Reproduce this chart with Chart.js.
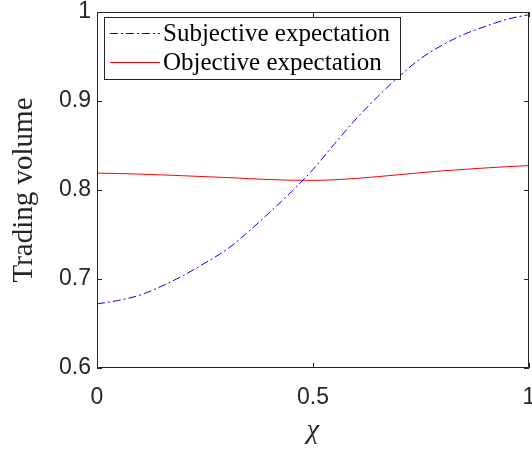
<!DOCTYPE html>
<html>
<head>
<meta charset="utf-8">
<script src="https://cdn.jsdelivr.net/npm/chart.js@4.4.0/dist/chart.umd.min.js"></script>
<style>
html,body{margin:0;padding:0;background:#fff;}
#wrap{width:532px;height:450px;position:relative;}
</style>
</head>
<body>
<div id="wrap"><canvas id="c" width="532" height="450"></canvas></div>
<script>
const chiValues = [0,0.05,0.1,0.15,0.2,0.25,0.3,0.35,0.4,0.45,0.5,0.55,0.6,0.65,0.7,0.75,0.8,0.85,0.9,0.95,1];
const subjective = [0.672,0.676,0.682,0.692,0.704,0.718,0.733,0.753,0.775,0.798,0.823,0.852,0.880,0.905,0.928,0.948,0.963,0.975,0.984,0.992,0.997];
const objective = [0.819,0.8185,0.8178,0.8170,0.8160,0.8150,0.8140,0.8128,0.8117,0.8110,0.8108,0.8115,0.8130,0.8150,0.8172,0.8195,0.8215,0.8232,0.8248,0.8262,0.8275];
const xTicks = [0,0.5,1];
const yTicks = [0.6,0.7,0.8,0.9,1];
const seriesLabels = ['Subjective expectation','Objective expectation'];

const axisColor = '#262626';
const sansFont = '"Liberation Sans", Arial, Helvetica, sans-serif';
const serifFont = '"Liberation Serif", "Times New Roman", serif';

const boxPlugin = {
  id: 'boxPlugin',
  afterDatasetsDraw(chart) {
    const ctx = chart.ctx;
    const a = chart.chartArea;
    const xs = chart.scales.x, ys = chart.scales.y;
    ctx.save();
    ctx.strokeStyle = axisColor;
    ctx.lineWidth = 1;
    ctx.beginPath();
    ctx.rect(Math.round(a.left)+0.5, Math.round(a.top)+0.5, Math.round(a.right-a.left)-1, Math.round(a.bottom-a.top)-1);
    ctx.stroke();
    const tl = 5;
    ctx.beginPath();
    xTicks.forEach(v => {
      const px = Math.round(xs.getPixelForValue(v)) + 0.5;
      ctx.moveTo(px, a.bottom); ctx.lineTo(px, a.bottom - tl);
      ctx.moveTo(px, a.top); ctx.lineTo(px, a.top + tl);
    });
    yTicks.forEach(v => {
      const py = Math.round(ys.getPixelForValue(v)) + 0.5;
      ctx.moveTo(a.left, py); ctx.lineTo(a.left + tl, py);
      ctx.moveTo(a.right, py); ctx.lineTo(a.right - tl, py);
    });
    ctx.stroke();

    // legend
    const lx = 104.5, ly = 17.5, lw = 296, lh = 62;
    ctx.fillStyle = '#fff';
    ctx.fillRect(lx, ly, lw, lh);
    ctx.strokeStyle = axisColor;
    ctx.strokeRect(lx, ly, lw, lh);
    const rows = [33, 62];
    chart.data.datasets.forEach((ds, i) => {
      ctx.strokeStyle = ds.borderColor;
      ctx.lineWidth = ds.borderWidth;
      ctx.setLineDash(ds.borderDash || []);
      ctx.beginPath();
      ctx.moveTo(110, rows[i] + 0.5);
      ctx.lineTo(160, rows[i] + 0.5);
      ctx.stroke();
      ctx.setLineDash([]);
      ctx.fillStyle = '#000';
      ctx.font = '25px ' + serifFont;
      ctx.textBaseline = 'middle';
      ctx.textAlign = 'left';
      ctx.fillText(ds.label, 163, rows[i] + 1);
    });
    ctx.restore();
  }
};

const toPoints = arr => chiValues.map((x, i) => ({x: x, y: arr[i]}));

new Chart(document.getElementById('c'), {
  type: 'line',
  data: {
    datasets: [
      {label: seriesLabels[0], data: toPoints(subjective), borderColor: '#0000ff', borderWidth: 1, borderDash: [8,3,2,3], pointRadius: 0, tension: 0.4, cubicInterpolationMode: 'monotone', fill: false},
      {label: seriesLabels[1], data: toPoints(objective), borderColor: '#ff0000', borderWidth: 1, pointRadius: 0, tension: 0.4, cubicInterpolationMode: 'monotone', fill: false}
    ]
  },
  options: {
    responsive: false,
    animation: false,
    events: [],
    layout: {padding: {left: 0, right: 3, top: 12, bottom: 0}},
    plugins: {legend: {display: false}, tooltip: {enabled: false}},
    scales: {
      x: {
        type: 'linear', min: 0, max: 1,
        afterBuildTicks: s => { s.ticks = xTicks.map(v => ({value: v})); },
        afterFit: s => { s.height = 82; s.paddingLeft = 0; s.paddingRight = 0; },
        grid: {display: false, drawTicks: false},
        border: {display: false},
        ticks: {color: axisColor, font: {family: sansFont, size: 23}, padding: 16, maxRotation: 0,
          callback: v => String(v)},
        title: {display: true, text: 'χ', color: axisColor, font: {family: serifFont, size: 28, style: 'italic'}, padding: {top: 0, bottom: 3}}
      },
      y: {
        type: 'linear', min: 0.6, max: 1,
        afterBuildTicks: s => { s.ticks = yTicks.map(v => ({value: v})); },
        afterFit: s => { s.width = 97; s.paddingTop = 0; s.paddingBottom = 0; },
        grid: {display: false, drawTicks: false},
        border: {display: false},
        ticks: {color: axisColor, font: {family: sansFont, size: 23}, padding: 6,
          callback: v => String(v)},
        title: {display: true, text: 'Trading volume', color: axisColor, font: {family: serifFont, size: 29}, padding: {top: 7, bottom: 0}}
      }
    }
  },
  plugins: [boxPlugin]
});
</script>
</body>
</html>
